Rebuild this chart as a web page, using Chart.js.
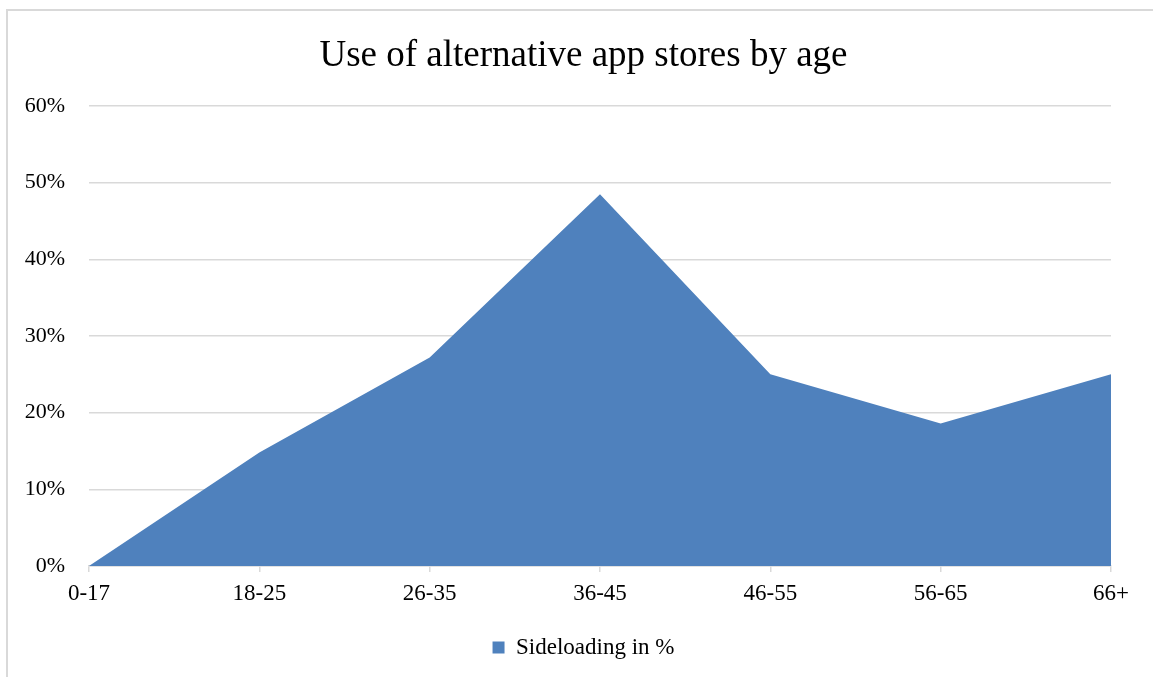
<!DOCTYPE html>
<html>
<head>
<meta charset="utf-8">
<script src="https://cdn.jsdelivr.net/npm/chart.js@4"></script>
<style>
    html, body { margin: 0; padding: 0; background: #ffffff; }
    .frame {
        position: absolute;
        left: 6px;
        top: 9px;
        width: 1160px;
        height: 700px;
        border-top: 2px solid #d9d9d9;
        border-left: 2px solid #d9d9d9;
    }
    .chart-box { position: absolute; left: 0; top: 0; width: 1153px; height: 677px; }
</style>
</head>
<body>
<div class="frame"></div>
<div class="chart-box"><canvas id="ageChart"></canvas></div>
<script>
// Age groups and share of people sideloading apps (%)
const ageGroups = ['0-17', '18-25', '26-35', '36-45', '46-55', '56-65', '66+'];
const sideloading = [0, 14.8, 27.2, 48.5, 25, 18.6, 25];
const percentTicks = [0, 10, 20, 30, 40, 50, 60];

const serif = 'Liberation Serif';

const ctx = document.getElementById('ageChart').getContext('2d');
const ageChart = new Chart(ctx, {
    type: 'line',
    data: {
        labels: ageGroups,
        datasets: [{
            label: 'Sideloading in %',
            data: sideloading,
            backgroundColor: '#4f81bd',
            borderColor: '#4f81bd',
            borderWidth: 0,
            fill: 'origin',
            tension: 0,
            pointRadius: 0
        }]
    },
    options: {
        responsive: true,
        maintainAspectRatio: false,
        animation: false,
        layout: {
            padding: { left: 14, right: 0, top: 0, bottom: 8 }
        },
        plugins: {
            title: {
                display: true,
                text: 'Use of alternative app stores by age',
                color: '#000000',
                font: { family: serif, size: 37, weight: 'normal' },
                padding: { top: 34, bottom: 27.6 }
            },
            legend: {
                position: 'bottom',
                labels: {
                    color: '#000000',
                    font: { family: serif, size: 23 },
                    boxWidth: 12,
                    boxHeight: 12,
                    padding: 10
                }
            },
            tooltip: { enabled: false }
        },
        scales: {
            y: {
                min: percentTicks[0],
                max: percentTicks[percentTicks.length - 1],
                afterBuildTicks: function(scale) {
                    scale.ticks = percentTicks.map(v => ({ value: v }));
                },
                afterFit: function(scale) {
                    scale.width = 75;
                },
                border: { display: false },
                grid: {
                    color: '#d9d9d9',
                    lineWidth: 1.5,
                    drawTicks: false
                },
                ticks: {
                    color: '#000000',
                    font: { family: serif, size: 22 },
                    padding: 24,
                    callback: function(value) {
                        return value + '%';
                    }
                }
            },
            x: {
                offset: false,
                afterFit: function(scale) {
                    // fixed axis band, plus room on the right of the plot
                    scale.height = 60;
                    scale.paddingRight = 42;
                },
                border: { color: '#d9d9d9', width: 1.5 },
                grid: {
                    drawOnChartArea: false,
                    drawTicks: true,
                    tickLength: 6,
                    color: '#d9d9d9',
                    lineWidth: 1.5
                },
                ticks: {
                    color: '#000000',
                    font: { family: serif, size: 23 },
                    padding: 8,
                    maxRotation: 0,
                    autoSkip: false
                }
            }
        }
    }
});
</script>
</body>
</html>
